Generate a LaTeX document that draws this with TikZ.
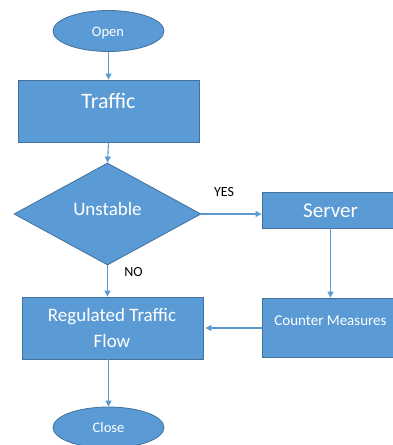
\documentclass[tikz,border=0pt]{standalone}
\usepackage{fontspec}
\setmainfont{Carlito}
\usetikzlibrary{shapes.geometric,arrows.meta}
\definecolor{fillblue}{HTML}{5B9BD5}
\definecolor{edgeblue}{HTML}{41719C}
\tikzset{
  shp/.style={fill=fillblue, draw=edgeblue, line width=0.8pt, inner sep=0pt},
  boxshape/.style={shp, rectangle},
  ovalshape/.style={shp, ellipse},
  decshape/.style={shp, diamond},
  wtxt/.style={text=white, anchor=base, inner sep=0pt},
  btxt/.style={text=black, anchor=base, inner sep=0pt, font=\fontsize{14}{16}\selectfont},
  conn/.style={draw=fillblue, line width=1.1pt, -{Triangle[length=6pt,width=6pt]}},
}
\begin{document}
\begin{tikzpicture}[x=1pt,y=-1pt]
\useasboundingbox (0,0) rectangle (392,445);
% shapes
\node[ovalshape, minimum width=111, minimum height=41] (open) at (108.5,31) {};
\node[boxshape, minimum width=181, minimum height=62] (traffic) at (108.5,111) {};
\node[decshape, minimum width=187, minimum height=102] (dec) at (107.5,214) {};
\node[boxshape, minimum width=137, minimum height=36] (server) at (330.5,210) {};
\node[boxshape, minimum width=137, minimum height=59] (counter) at (330.5,327.5) {};
\node[boxshape, minimum width=181, minimum height=62] (reg) at (112.5,328) {};
\node[ovalshape, minimum width=111, minimum height=41] (close) at (108.5,427.5) {};
% texts
\node[wtxt, font=\fontsize{14.5}{17}\selectfont] (topen) at (108,36) {Open};
\node[wtxt, font=\fontsize{22}{26}\selectfont] (ttraffic) at (108.5,108.5) {Traffic};
\node[wtxt, font=\fontsize{19}{23}\selectfont] (tdec) at (107.5,215) {Unstable};
\node[wtxt, font=\fontsize{21}{25}\selectfont] (tserver) at (330.5,217) {Server};
\node[wtxt, font=\fontsize{15}{18}\selectfont] (tcounter) at (330.5,325) {Counter Measures};
\node[wtxt, font=\fontsize{19}{22}\selectfont] (treg1) at (112,321) {Regulated Traffic};
\node[wtxt, font=\fontsize{19}{22}\selectfont] (treg2) at (112,347) {Flow};
\node[wtxt, font=\fontsize{14.5}{17}\selectfont] (tclose) at (108.5,432.5) {Close};
\node[btxt] (yes) at (224,196.5) {YES};
\node[btxt] (no) at (133.5,276.5) {NO};
% connectors
\draw[conn] (open.south) -- (traffic.north);
\draw[conn] (traffic.south) -- (dec.north);
\draw[conn] (dec.east) -- (dec.east -| server.west);
\draw[conn] (server.south) -- (counter.north);
\draw[conn] (dec.south) -- (dec.south |- reg.north);
\draw[conn, shorten >=2pt] (counter.west |- reg.east) -- (reg.east);
\draw[conn] (close.north |- reg.south) -- (close.north);
\end{tikzpicture}
\end{document}
